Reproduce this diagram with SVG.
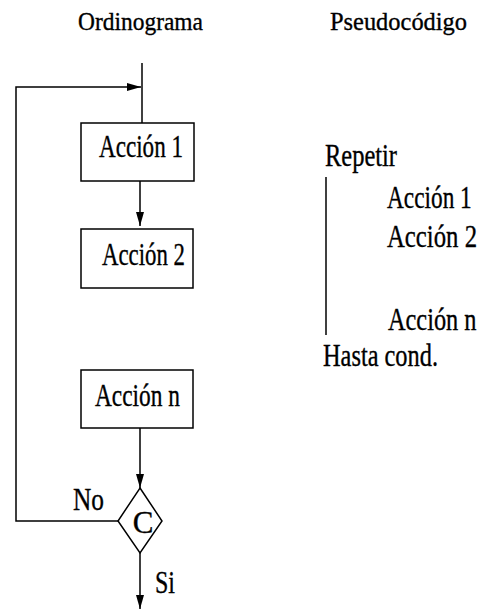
<svg xmlns="http://www.w3.org/2000/svg" width="481" height="612" viewBox="0 0 481 612">
<style>
text{font-family:"Liberation Serif","Times New Roman",serif;fill:#000;stroke:#000;stroke-width:0.35}
.t{font-size:26px}
.l{font-size:31px}
.box{fill:#fff;stroke:#000;stroke-width:1.5}
.c{fill:none;stroke:#000;stroke-width:1.5}
</style>
<defs>
<marker id="ah" markerWidth="15" markerHeight="9" refX="14" refY="4.5" orient="auto" markerUnits="userSpaceOnUse">
<path d="M0,0.5 L14,4.5 L0,8.5 z" fill="#000"/>
</marker>
</defs>
<rect width="481" height="612" fill="#fff"/>
<g id="titles">
<text class="t" x="78" y="30" textLength="125" lengthAdjust="spacingAndGlyphs">Ordinograma</text>
<text class="t" x="330" y="30" textLength="137" lengthAdjust="spacingAndGlyphs">Pseudocódigo</text>
</g>
<g id="connectors">
<path class="c" d="M142,63 V123"/>
<path class="c" d="M119,521 H16 V87 H141" marker-end="url(#ah)"/>
<path class="c" d="M140,181 V226" marker-end="url(#ah)"/>
<path class="c" d="M140,428 V488" marker-end="url(#ah)"/>
<path class="c" d="M140,553 V609" marker-end="url(#ah)"/>
</g>
<g id="accion1">
<rect class="box" x="81" y="123" width="113" height="58"/>
<text class="l" x="99" y="157" textLength="84" lengthAdjust="spacingAndGlyphs">Acción 1</text>
</g>
<g id="accion2">
<rect class="box" x="81" y="229" width="112" height="59"/>
<text class="l" x="102" y="265" textLength="83" lengthAdjust="spacingAndGlyphs">Acción 2</text>
</g>
<g id="accionn">
<rect class="box" x="81" y="370" width="112" height="58"/>
<text class="l" x="95" y="406" textLength="85" lengthAdjust="spacingAndGlyphs">Acción n</text>
</g>
<g id="cond">
<polygon class="box" points="140,488 162,521 140,553 118,521"/>
<text class="l" x="143" y="533" text-anchor="middle">C</text>
</g>
<g id="labels">
<text class="l" x="73" y="510" textLength="31" lengthAdjust="spacingAndGlyphs">No</text>
<text class="l" x="155" y="593" textLength="20" lengthAdjust="spacingAndGlyphs">Si</text>
</g>
<g id="pseudocodigo">
<text class="l" x="325" y="166" textLength="72" lengthAdjust="spacingAndGlyphs">Repetir</text>
<line class="c" x1="326" y1="177" x2="326" y2="335"/>
<text class="l" transform="translate(387 208) scale(0.75 1)" x="0" y="0" textLength="113" lengthAdjust="spacingAndGlyphs">Acción 1</text>
<text class="l" transform="translate(387 247) scale(0.75 1)" x="0" y="0" textLength="120" lengthAdjust="spacingAndGlyphs">Acción 2</text>
<text class="l" transform="translate(388 330) scale(0.75 1)" x="0" y="0" textLength="118" lengthAdjust="spacingAndGlyphs">Acción n</text>
<text class="l" x="323" y="366" textLength="115" lengthAdjust="spacingAndGlyphs">Hasta cond.</text>
</g>
</svg>
